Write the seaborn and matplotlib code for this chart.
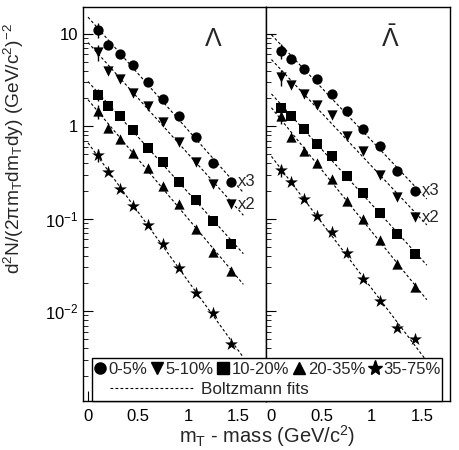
import matplotlib
matplotlib.use('Agg')
import matplotlib.pyplot as plt
from matplotlib.lines import Line2D
from matplotlib.patches import Rectangle
from matplotlib.ticker import FixedLocator, FixedFormatter
import seaborn as sns
import pandas as pd
import numpy as np

# DATA ----------------------------------------------------------------------------

mt_bins = [0.1, 0.2, 0.32, 0.45, 0.6, 0.75, 0.91, 1.08, 1.25, 1.43]
centralities = ['0-5%', '5-10%', '10-20%', '20-35%', '35-75%']
cent_markers = {'0-5%': 'o', '5-10%': 'v', '10-20%': 's', '20-35%': '^', '35-75%': '*'}
scale_labels = {'0-5%': 'x3', '5-10%': 'x2'}

# Lambda spectra (0-5% scaled x3, 5-10% scaled x2)
lam_0_5 = [11.0, 7.5, 6.0, 4.65, 3.05, 1.97, 1.28, 0.757, 0.40, 0.25]
lam_5_10 = [6.34, 3.98, 3.26, 2.32, 1.64, 1.10, 0.68, 0.41, 0.237, 0.144]
lam_10_20 = [2.19, 1.67, 1.29, 0.91, 0.58, 0.41, 0.251, 0.160, 0.095, 0.054]
lam_20_35 = [1.45, 0.97, 0.73, 0.51, 0.353, 0.227, 0.144, 0.0775, 0.0437, 0.027]
lam_35_75 = [0.489, 0.317, 0.211, 0.136, 0.0861, 0.0532, 0.0293, 0.0157, 0.0096, 0.0044]

# anti-Lambda spectra
alam_0_5 = [6.55, 5.37, 4.19, 3.26, 2.23, 1.47, 0.94, 0.605, 0.331, 0.202]
alam_5_10 = [3.40, 2.81, 2.25, 1.71, 1.33, 0.776, 0.535, 0.301, 0.172, 0.104]
alam_10_20 = [1.57, 1.28, 0.93, 0.642, 0.48, 0.292, 0.192, 0.115, 0.0689, 0.0419]
alam_20_35 = [1.28, 0.764, 0.547, 0.40, 0.268, 0.157, 0.0993, 0.0593, 0.0327, 0.0185]
alam_35_75 = [0.333, 0.247, 0.163, 0.108, 0.0711, 0.0426, 0.0223, 0.0128, 0.0066, 0.0050]

# relative error on the lowest m_T bin (only one that is visibly larger than the marker)
first_bin_rel_err = [0.18, 0.2, 0.15, 0.18, 0.15]

panels = {
    'lambda': [lam_0_5, lam_5_10, lam_10_20, lam_20_35, lam_35_75],
    'antilambda': [alam_0_5, alam_5_10, alam_10_20, alam_20_35, alam_35_75],
}
panel_titles = {'lambda': r'$\Lambda$', 'antilambda': r'$\bar{\Lambda}$'}

y_ticks = [1e-2, 1e-1, 1, 10]
y_ticklabels = [r'$10^{-2}$', r'$10^{-1}$', '1', '10']
x_ticks = [0, 0.5, 1, 1.5]
x_ticklabels = ['0', '0.5', '1', '1.5']

# BUILD DATAFRAMES ------------------------------------------------------------------

rows = []
fit_rows = []
mt_fit = np.linspace(0.0, 1.55, 60)
for panel, series in panels.items():
    for cent, vals in zip(centralities, series):
        for mt, v in zip(mt_bins, vals):
            rows.append({'panel': panel, 'cent': cent, 'mt': mt, 'y': v})
        # exponential (Boltzmann-like) fit in log space
        slope, icpt = np.polyfit(mt_bins, np.log10(vals), 1)
        for mt in mt_fit:
            fit_rows.append({'panel': panel, 'cent': cent, 'mt': mt, 'y': 10 ** (icpt + slope * mt)})
df = pd.DataFrame(rows)
fit_df = pd.DataFrame(fit_rows)

# STYLE ------------------------------------------------------------------------------

sns.set_theme(style='ticks')
plt.rcParams['font.family'] = ['Liberation Sans', 'DejaVu Sans']
plt.rcParams['mathtext.default'] = 'regular'
plt.rcParams['axes.edgecolor'] = 'black'
plt.rcParams['axes.linewidth'] = 1.0
plt.rcParams['xtick.direction'] = 'in'
plt.rcParams['ytick.direction'] = 'in'
plt.rcParams['xtick.color'] = 'black'
plt.rcParams['ytick.color'] = 'black'

# PLOT -------------------------------------------------------------------------------

fig, axes = plt.subplots(1, 2, sharey=True, figsize=(4.6, 4.5), dpi=100)
fig.subplots_adjust(left=0.1804, right=0.978, top=0.9844, bottom=0.1089, wspace=0)

for ax, panel in zip(axes, panels):
    sub = df[df['panel'] == panel]
    sub_fit = fit_df[fit_df['panel'] == panel]
    sns.lineplot(data=sub_fit, x='mt', y='y', units='cent', estimator=None,
                 color='black', lw=0.8, linestyle=(0, (2.5, 2)), ax=ax, legend=False)
    for cent, err in zip(centralities, first_bin_rel_err):
        s = sub[sub['cent'] == cent]
        size = 95 if cent == '35-75%' else 55
        first = s.iloc[0]
        ax.errorbar(first['mt'], first['y'], yerr=[[first['y'] * err], [first['y'] * err]],
                    fmt='none', ecolor='black', elinewidth=1.0, capsize=0, zorder=2)
        sns.scatterplot(data=s, x='mt', y='y', marker=cent_markers[cent], s=size,
                        color='black', edgecolor='black', linewidth=0, ax=ax,
                        legend=False, zorder=3)
        if cent in scale_labels:
            last = s.iloc[-1]
            ax.annotate(scale_labels[cent], xy=(last['mt'], last['y']), xytext=(5, 0),
                        textcoords='offset points', ha='left', va='center', fontsize=12)
    ax.set_yscale('log')
    ax.set_xlim(-0.05, 1.78)
    ax.set_ylim(1.07e-3, 19.5)
    ax.xaxis.set_major_locator(FixedLocator(x_ticks))
    ax.xaxis.set_major_formatter(FixedFormatter(x_ticklabels))
    ax.tick_params(axis='x', which='major', length=7, width=0.8, labelsize=12, pad=6)
    ax.tick_params(axis='y', which='major', length=7, width=0.8, labelsize=12)
    ax.tick_params(axis='y', which='minor', length=3.5, width=0.6)
    ax.set_xlabel('')
    ax.set_ylabel('')
    ax.text(0.71 if panel == 'lambda' else 0.676, 0.92, panel_titles[panel],
            transform=ax.transAxes, fontsize=18, math_fontfamily='stix',
            ha='center', va='center')

axes[0].yaxis.set_major_locator(FixedLocator(y_ticks))
axes[0].yaxis.set_major_formatter(FixedFormatter(y_ticklabels))
axes[1].tick_params(axis='y', which='both', labelleft=False)

axes[0].set_ylabel(r'd$^{2}$N/(2$\pi$m$_{T}$dm$_{T}$dy) (GeV/c$^{2}$)$^{-2}$', fontsize=13.8)
axes[0].yaxis.set_label_coords(-0.31, 0.64)
fig.text(267 / 460, 0.03, r'm$_{T}$ - mass (GeV/c$^{2}$)', fontsize=14.5, ha='center', va='center')

# LEGEND -----------------------------------------------------------------------------

box = Rectangle((0.2, 0.109), 0.761, 0.0956, transform=fig.transFigure,
                facecolor='white', edgecolor='black', lw=1.0, zorder=3)
fig.add_artist(box)

marker_handles = [Line2D([], [], marker=cent_markers[c], ls='none', color='black',
                         ms=11 if c == '35-75%' else 8) for c in centralities]
fig.legend(marker_handles, centralities, ncol=5, loc='center left',
           bbox_to_anchor=(0.203, 1 - 369 / 450), frameon=False, fontsize=12,
           handlelength=0.75, handletextpad=0.15, columnspacing=0.2,
           borderpad=0, borderaxespad=0)
fit_handle = Line2D([], [], color='black', lw=0.8, linestyle=(0, (2.5, 2)))
fig.legend([fit_handle], ['Boltzmann fits'], loc='center left',
           bbox_to_anchor=(110 / 460, 1 - 389 / 450), frameon=False, fontsize=12.3,
           handlelength=4.9, handletextpad=0.4, borderpad=0, borderaxespad=0)

plt.savefig('out.png', dpi=100)
